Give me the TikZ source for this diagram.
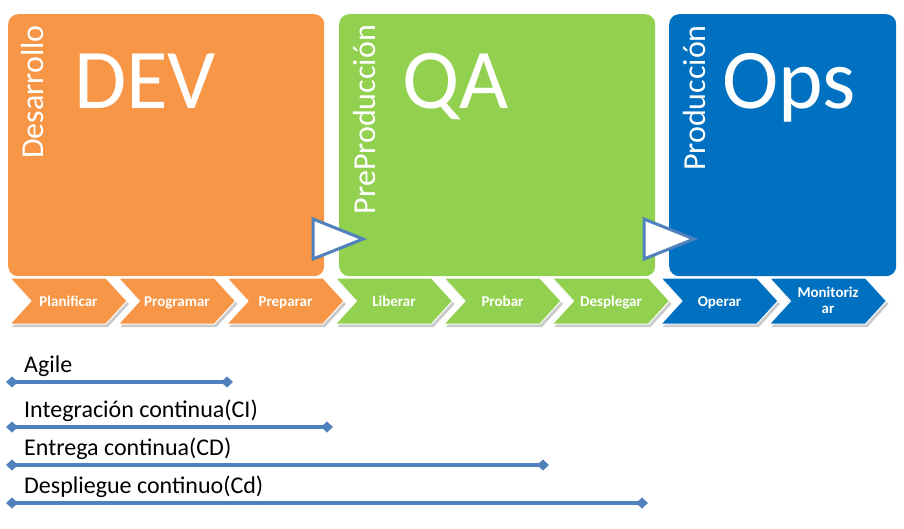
\documentclass[tikz,border=0pt]{standalone}
\usepackage{fontspec}
\setmainfont{Carlito}
\usetikzlibrary{shadows,arrows.meta}
\definecolor{devorange}{HTML}{F79646}
\definecolor{qagreen}{HTML}{92D050}
\definecolor{opsblue}{HTML}{0070C0}
\definecolor{linkblue}{HTML}{4F81BD}

\begin{document}
\begin{tikzpicture}[x=1pt,y=-1pt,
    stage/.style={rounded corners=10pt,minimum height=262pt,anchor=north west,inner sep=0pt},
    bigtag/.style={font=\fontsize{85}{85}\selectfont,text=white,anchor=base west,inner sep=0pt},
    sidetag/.style={font=\fontsize{32}{32}\selectfont,text=white,rotate=90,anchor=base east,inner sep=0pt},
    handoff/.style={draw=linkblue,line width=3pt,fill=white},
    phase/.style={draw=white,line width=1pt,
        drop shadow={shadow xshift=2pt,shadow yshift=-3pt,opacity=0.35,fill=black!60}},
    phasetag/.style={text=white,font=\fontsize{15}{16}\selectfont\bfseries,align=center,inner sep=0pt},
    track/.style={draw=linkblue,line width=3.5pt,{Diamond[length=12pt,width=11pt]}-{Diamond[length=12pt,width=11pt]}},
    tracktag/.style={font=\fontsize{24}{24}\selectfont,anchor=base west,inner sep=0pt}]
    \useasboundingbox (0,0) rectangle (904,528);
    \node[stage,fill=devorange,minimum width=316pt] (dev) at (8,14) {};
    \node[stage,fill=qagreen,minimum width=316pt] (qa) at (339,14) {};
    \node[stage,fill=opsblue,minimum width=227pt] (ops) at (669,14) {};
    \node[bigtag] (devtxt) at (74,108) {DEV};
    \node[bigtag] (qatxt) at (402,108) {QA};
    \node[bigtag] (opstxt) at (722,108) {Ops};
    \node[sidetag] (desa) at (43,25) {Desarrollo};
    \node[sidetag] (prepro) at (375,25) {PreProducción};
    \node[sidetag] (produ) at (705,25) {Producción};
    \draw[handoff] (313,219) -- (363,239) -- (313,259) -- cycle;
    \draw[handoff] (644,219) -- (694,239) -- (644,259) -- cycle;
    \foreach \col [count=\i from 0] in {devorange,devorange,devorange,qagreen,qagreen,qagreen,opsblue,opsblue}
        \path[phase,fill=\col] ({10+108.5*\i},278) -- ++(96,0) -- ++(21,23) -- ++(-21,23)
            -- ++(-96,0) -- ++(21,-23) -- cycle;
    \foreach \name/\txt [count=\i from 0] in {plan/Planificar,prog/Programar,prep/Preparar,
        lib/Liberar,prob/Probar,desp/Desplegar,oper/Operar}
        \node[phasetag,anchor=base] (\name) at ({68.5+108.5*\i},306) {\txt};
    \node[phasetag] (moni) at (828,300) {Monitoriz\\ar};
    \foreach \name/\txt/\y/\xend in {agile/Agile/382/233,ci/{Integración continua(CI)}/427/333,
        cd/{Entrega continua(CD)}/465/549,cdd/{Despliegue continuo(Cd)}/503/648} {
        \node[tracktag] (\name) at (24,\y-10) {\txt};
        \coordinate (\name-l) at (6,\y);
        \coordinate (\name-r) at (\xend,\y);
        \draw[track] (\name-l) -- (\name-r);
    }
\end{tikzpicture}
\end{document}
